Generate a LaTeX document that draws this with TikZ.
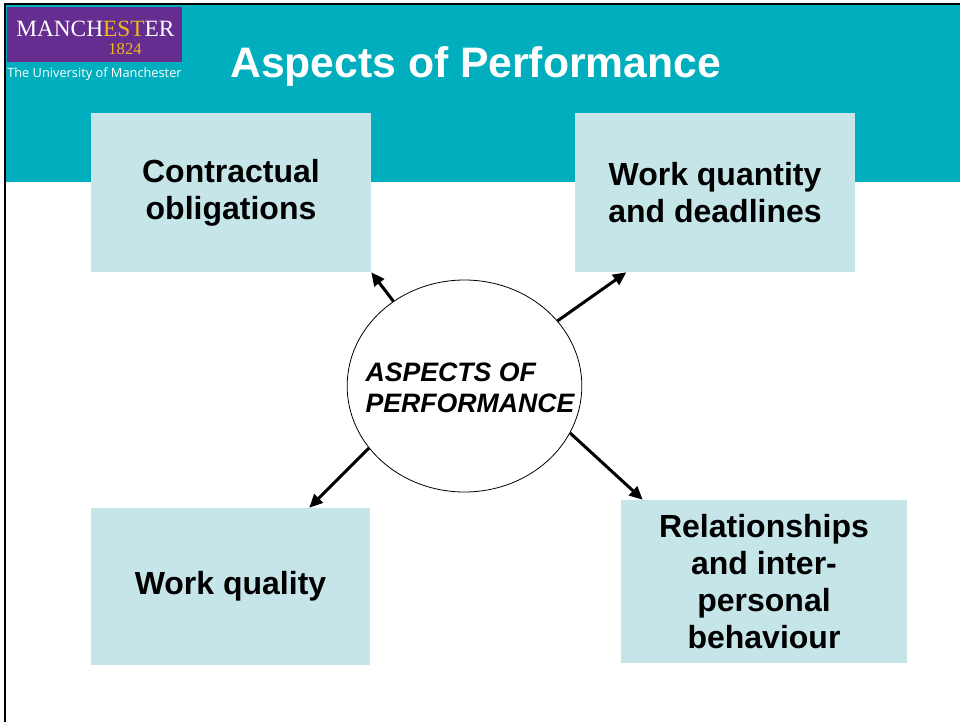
\documentclass[tikz,border=0pt]{standalone}
\usepackage{fontspec}
\setmainfont{Liberation Sans}
\newfontfamily\logoserif{Liberation Serif}
\newfontfamily\logosans{Open Sans}
\usetikzlibrary{shapes.geometric,arrows.meta}
\definecolor{headerteal}{RGB}{0,174,189}
\definecolor{lightteal}{RGB}{197,229,232}
\definecolor{manpurple}{RGB}{102,45,145}
\definecolor{mangold}{RGB}{240,182,30}

\begin{document}
\begin{tikzpicture}[x=0.75pt,y=-0.75pt,
  box/.style={fill=lightteal,minimum width=210pt,minimum height=119.25pt,align=center,font=\fontsize{24}{27.6}\selectfont\bfseries},
  logotext/.style={anchor=base west,inner sep=0},
  arr/.style={-{Triangle[length=10pt,width=9pt]},line width=2.25pt}]
\useasboundingbox (0,0) rectangle (960,722);
% header band and frame
\fill[headerteal] (6,5) rectangle (960,182);
\draw[line width=1.5pt] (5,722) -- (5,4) -- (960,4);
% logo
\fill[manpurple] (7,7) rectangle (182,62);
\node[logotext,text=white,font=\logoserif\fontsize{17.5}{17.5}\selectfont] (logoName) at (16,36) {MANCH\textcolor{mangold}{EST}ER};
\node[logotext,anchor=base east,text=mangold,font=\logoserif\fontsize{12.5}{12.5}\selectfont] (logoYear) at (142,54) {1824};
\node[logotext,text=white,font=\logosans\fontsize{9.6}{9.6}\selectfont] (logoUni) at (7,77) {The University of Manchester};
\node[logotext,text=white,font=\fontsize{32}{32}\selectfont\bfseries] (title) at (230,77) {Aspects of Performance};
% boxes
\node[box] (contr) at (231,192.5) {Contractual\\obligations};
\node[box] (wqty) at (715,192.5) {Work quantity\\and deadlines};
\node[box,minimum width=209.25pt,minimum height=117.75pt] (wqual) at (230.5,586.5) {Work quality};
\node[box,minimum width=214.5pt,minimum height=122.25pt] (rel) at (764,581.5) {Relationships\\and inter-\\personal\\behaviour};
% centre
\node[ellipse,draw,line width=0.6pt,minimum width=176pt,minimum height=159pt,inner sep=0] (ell) at (464.5,386) {};
\node[align=left,inner sep=0,font=\fontsize{20}{23}\selectfont\bfseries\itshape] (ellText) at (470,388) {ASPECTS OF\\PERFORMANCE};
% arrows
\draw[arr] (ell.130) -- (contr.south east);
\draw[arr] (ell.35) -- (wqty.222);
\draw[arr] (ell.213) -- (wqual.45);
\draw[arr] (ell.336) -- (rel.146);
\end{tikzpicture}
\end{document}
